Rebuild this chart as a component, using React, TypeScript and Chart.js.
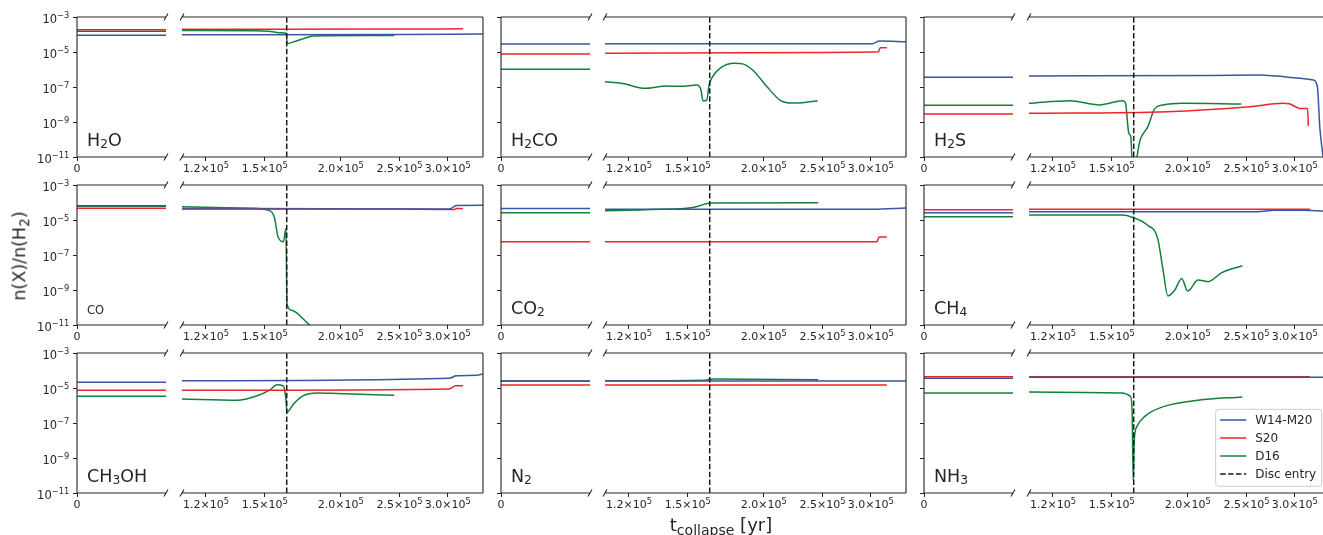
import React, { useEffect, useRef } from 'react';
import { Chart, registerables } from 'chart.js';
Chart.register(...registerables);

const FONT = "'DejaVu Sans', 'Liberation Sans', sans-serif";
const BLUE = '#3b54a5';
const RED = '#ed2529';
const GREEN = '#12803b';
const DARK = '#262626';

// ---------- axes ----------
const X_MIN = 1.096e5;
const X_MAX = 3.43e5;
const DISC_ENTRY = 1.63e5;
const Y_MIN = 1e-11;
const Y_MAX = 1e-3;
const DISC_Y = [Y_MIN, Y_MAX];
const X_TICKS = [1.2e5, 1.5e5, 2.0e5, 2.5e5, 3.0e5];
const X_TICK_LABELS = [['1.2×10', '5'], ['1.5×10', '5'], ['2.0×10', '5'], ['2.5×10', '5'], ['3.0×10', '5']];
const X0_TICKS = [0];
const X0_TICK_LABELS = [['0', '']];
const Y_TICKS = [1e-11, 1e-9, 1e-7, 1e-5, 1e-3];
const Y_TICK_LABELS = [['10', '−11'], ['10', '−9'], ['10', '−7'], ['10', '−5'], ['10', '−3']];
const MODELS = ['W14-M20', 'S20', 'D16'];
const DISC_LABEL = 'Disc entry';

// ---------- data: initial values [W14-M20, S20, D16] and time series [t, n(X)/n(H2)] ----------
const H2O_INIT = [9.0e-5, 1.85e-4, 1.55e-4];
const H2O_W14 = [[1.096e5, 9.6e-5], [2.5e5, 1.0e-4], [3.43e5, 1.07e-4]];
const H2O_S20 = [[1.096e5, 2.0e-4], [2.5e5, 2.05e-4], [3.18e5, 2.1e-4]];
const H2O_D16 = [[1.096e5, 1.7e-4], [1.45e5, 1.65e-4], [1.52e5, 1.55e-4], [1.6e5, 1.25e-4], [1.628e5, 1.15e-4], [1.632e5, 3.0e-5], [1.694e5, 4.4e-5], [1.755e5, 6.5e-5], [1.8e5, 8.2e-5], [1.9e5, 8.5e-5], [2.45e5, 8.7e-5]];

const H2CO_INIT = [2.87e-5, 7.7e-6, 1.02e-6];
const H2CO_W14 = [[1.096e5, 2.97e-5], [3.02e5, 3.0e-5], [3.1e5, 4.2e-5], [3.43e5, 3.9e-5]];
const H2CO_S20 = [[1.096e5, 8.4e-6], [2.5e5, 9.5e-6], [3.09e5, 1.03e-5], [3.11e5, 1.76e-5], [3.19e5, 1.76e-5]];
const H2CO_D16 = [[1.096e5, 2.0e-7], [1.172e5, 1.6e-7], [1.275e5, 8.4e-8], [1.38e5, 1.14e-7], [1.46e5, 1.1e-7], [1.553e5, 1.3e-7], [1.577e5, 6.7e-8], [1.589e5, 1.6e-8], [1.612e5, 1.8e-8], [1.625e5, 1.14e-7], [1.642e5, 3.2e-7], [1.694e5, 1.17e-6], [1.792e5, 2.26e-6], [1.847e5, 2.1e-6], [1.918e5, 9.3e-7], [2.025e5, 1.04e-7], [2.127e5, 1.8e-8], [2.234e5, 1.2e-8], [2.353e5, 1.35e-8], [2.454e5, 1.65e-8]];

const H2S_INIT = [3.57e-7, 2.86e-9, 8.97e-9];
const H2S_W14 = [[1.096e5, 4.25e-7], [2.2e5, 4.6e-7], [2.63e5, 4.85e-7], [2.8e5, 4.2e-7], [3.06e5, 3.2e-7], [3.22e5, 2.5e-7], [3.27e5, 1.0e-7], [3.3e5, 5e-10], [3.34e5, 1e-11], [3.36e5, 1e-12]];
const H2S_S20 = [[1.096e5, 3.15e-9], [1.85e5, 3.9e-9], [2.53e5, 7.5e-9], [2.87e5, 1.17e-8], [2.94e5, 1.1e-8], [3.06e5, 6e-9], [3.15e5, 6e-9], [3.16e5, 5.9e-10]];
const H2S_D16 = [[1.096e5, 1.17e-8], [1.28e5, 1.65e-8], [1.43e5, 9.4e-9], [1.565e5, 1.65e-8], [1.58e5, 1.2e-8], [1.6e5, 2.3e-10], [1.612e5, 1.4e-10], [1.625e5, 1e-12], [1.67e5, 9.3e-11], [1.72e5, 5.4e-10], [1.766e5, 6e-9], [1.82e5, 9.4e-9], [1.96e5, 1.17e-8], [2.45e5, 1.08e-8]];

const CO_INIT = [6.6e-5, 4.7e-5, 6.2e-5];
const CO_W14 = [[1.096e5, 4.3e-5], [3.02e5, 4.2e-5], [3.1e5, 6.8e-5], [3.43e5, 6.9e-5]];
const CO_S20 = [[1.096e5, 4.6e-5], [2.5e5, 4.3e-5], [3.0e5, 4.0e-5], [3.08e5, 4.0e-5], [3.1e5, 4.6e-5], [3.18e5, 4.6e-5]];
const CO_D16 = [[1.096e5, 5.7e-5], [1.42e5, 4.7e-5], [1.53e5, 3.3e-5], [1.557e5, 1.25e-5], [1.577e5, 1.1e-6], [1.61e5, 5.7e-7], [1.625e5, 3.3e-6], [1.632e5, 1.5e-10], [1.66e5, 7e-11], [1.78e5, 1e-11], [1.9e5, 3e-12], [2.45e5, 3e-13]];

const CO2_INIT = [4.5e-5, 5.75e-7, 2.6e-5];
const CO2_W14 = [[1.096e5, 4.1e-5], [3.02e5, 4.1e-5], [3.43e5, 4.8e-5]];
const CO2_S20 = [[1.096e5, 5.75e-7], [3.07e5, 5.75e-7], [3.1e5, 1.06e-6], [3.19e5, 1.06e-6]];
const CO2_D16 = [[1.096e5, 3.4e-5], [1.4e5, 4.2e-5], [1.52e5, 5.0e-5], [1.57e5, 6.5e-5], [1.6e5, 8.3e-5], [1.65e5, 9.3e-5], [2.46e5, 9.7e-5]];

const CH4_INIT = [2.6e-5, 3.9e-5, 1.55e-5];
const CH4_W14 = [[1.096e5, 3.0e-5], [2.6e5, 3.0e-5], [2.78e5, 3.6e-5], [3.1e5, 3.6e-5], [3.43e5, 3.1e-5]];
const CH4_S20 = [[1.096e5, 4.1e-5], [3.18e5, 4.1e-5]];
const CH4_D16 = [[1.096e5, 1.9e-5], [1.557e5, 1.9e-5], [1.625e5, 1.4e-5], [1.716e5, 5.2e-6], [1.785e5, 8.9e-7], [1.82e5, 1.74e-8], [1.855e5, 4.6e-10], [1.905e5, 1e-9], [1.955e5, 4.6e-9], [2.0e5, 8.7e-10], [2.08e5, 3.7e-9], [2.16e5, 3e-9], [2.276e5, 9.8e-9], [2.46e5, 2.45e-8]];

const CH3OH_INIT = [2.1e-5, 7.4e-6, 3.4e-6];
const CH3OH_W14 = [[1.096e5, 2.6e-5], [3.02e5, 3.6e-5], [3.1e5, 5.0e-5], [3.35e5, 5.3e-5], [3.43e5, 6.3e-5]];
const CH3OH_S20 = [[1.096e5, 7.4e-6], [3.02e5, 8.8e-6], [3.09e5, 1.35e-5], [3.18e5, 1.35e-5]];
const CH3OH_D16 = [[1.096e5, 2.35e-6], [1.35e5, 2.0e-6], [1.45e5, 3.4e-6], [1.53e5, 7.9e-6], [1.57e5, 1.55e-5], [1.61e5, 1.3e-5], [1.625e5, 2.2e-6], [1.632e5, 4.1e-7], [1.67e5, 1.13e-6], [1.73e5, 3.4e-6], [1.83e5, 5.2e-6], [1.97e5, 4.9e-6], [2.45e5, 3.8e-6]];

const N2_INIT = [2.5e-5, 1.48e-5, 2.5e-5];
const N2_W14 = [[1.096e5, 2.5e-5], [3.43e5, 2.5e-5]];
const N2_S20 = [[1.096e5, 1.48e-5], [3.19e5, 1.48e-5]];
const N2_D16 = [[1.096e5, 2.6e-5], [1.6e5, 2.8e-5], [1.65e5, 3.25e-5], [2.46e5, 3.0e-5]];

const NH3_INIT = [3.6e-5, 4.4e-5, 5.2e-6];
const NH3_W14 = [[1.096e5, 4.1e-5], [3.43e5, 4.1e-5]];
const NH3_S20 = [[1.096e5, 4.4e-5], [3.18e5, 4.4e-5]];
const NH3_D16 = [[1.096e5, 5.9e-6], [1.557e5, 5.2e-6], [1.61e5, 3.3e-6], [1.62e5, 5.7e-7], [1.627e5, 5e-11], [1.632e5, 7.2e-9], [1.65e5, 6.4e-8], [1.7e5, 2.4e-7], [1.83e5, 8.9e-7], [2.08e5, 2.0e-6], [2.46e5, 3.1e-6]];

type Part = [string, number];
type Panel = { label: Part[]; small?: boolean; init: number[]; series: number[][][] };

const PANELS: Panel[] = [
  { label: [['H', 0], ['2', 1], ['O', 0]], init: H2O_INIT, series: [H2O_W14, H2O_S20, H2O_D16] },
  { label: [['H', 0], ['2', 1], ['CO', 0]], init: H2CO_INIT, series: [H2CO_W14, H2CO_S20, H2CO_D16] },
  { label: [['H', 0], ['2', 1], ['S', 0]], init: H2S_INIT, series: [H2S_W14, H2S_S20, H2S_D16] },
  { label: [['CO', 0]], small: true, init: CO_INIT, series: [CO_W14, CO_S20, CO_D16] },
  { label: [['CO', 0], ['2', 1]], init: CO2_INIT, series: [CO2_W14, CO2_S20, CO2_D16] },
  { label: [['CH', 0], ['4', 1]], init: CH4_INIT, series: [CH4_W14, CH4_S20, CH4_D16] },
  { label: [['CH', 0], ['3', 1], ['OH', 0]], init: CH3OH_INIT, series: [CH3OH_W14, CH3OH_S20, CH3OH_D16] },
  { label: [['N', 0], ['2', 1]], init: N2_INIT, series: [N2_W14, N2_S20, N2_D16] },
  { label: [['NH', 0], ['3', 1]], init: NH3_INIT, series: [NH3_W14, NH3_S20, NH3_D16] },
];

// ---------- layout ----------
const ROW_TOP = [17, 185, 353];
const PLOT_H = 140;
const COL_L = [77, 501, 924];
const LEFT_W = 89;
const COL_R = [182, 605, 1029];
const RIGHT_W = 301;
const PAD_T = 10;
const PAD_B = 24;
const PAD_R = 6;
const PAD_LR = 6;
const X_FS = 11;
const Y_FS = 11.5;

Chart.defaults.font.family = FONT;

const tickFont = { family: FONT, size: 11 };

function lineDs(data: number[][], color: string, label: string) {
  return {
    label,
    data: data.map(([x, y]) => ({ x, y })),
    borderColor: color,
    borderWidth: 1.5,
    pointRadius: 0,
    fill: false,
    cubicInterpolationMode: 'monotone',
    clip: 0,
  };
}

function spinePlugin(side: 'left' | 'right') {
  return {
    id: 'spines',
    afterDatasetsDraw(chart: any) {
      const { ctx, chartArea: a } = chart;
      ctx.save();
      ctx.strokeStyle = DARK;
      ctx.lineWidth = 1.1;
      ctx.beginPath();
      ctx.moveTo(a.left, a.top); ctx.lineTo(a.right, a.top);
      ctx.moveTo(a.left, a.bottom); ctx.lineTo(a.right, a.bottom);
      const ex = side === 'left' ? a.left : a.right;
      ctx.moveTo(ex, a.top); ctx.lineTo(ex, a.bottom);
      const bx = side === 'left' ? a.right : a.left;
      for (const by of [a.top, a.bottom]) {
        ctx.moveTo(bx - 2, by + 3.5);
        ctx.lineTo(bx + 2, by - 3.5);
      }
      ctx.stroke();
      ctx.restore();
    },
  };
}

// tick labels with real superscripts (mathtext style), placed with the chart's own scales
function xLabelPlugin(values: number[], labels: string[][]) {
  return {
    id: 'xTickLabels',
    afterDraw(chart: any) {
      const { ctx, chartArea: a } = chart;
      const sc = chart.scales.x;
      const supFs = X_FS * 0.75;
      const base = a.bottom + 15.3;
      ctx.save();
      ctx.fillStyle = DARK;
      ctx.textBaseline = 'alphabetic';
      ctx.textAlign = 'left';
      values.forEach((v, i) => {
        const px = sc.getPixelForValue(v);
        const [b, e] = labels[i];
        ctx.font = `${X_FS}px ${FONT}`;
        const w1 = ctx.measureText(b).width;
        ctx.font = `${supFs}px ${FONT}`;
        const w2 = e ? ctx.measureText(e).width : 0;
        const x0 = px - (w1 + w2) / 2;
        ctx.font = `${X_FS}px ${FONT}`;
        ctx.fillText(b, x0, base);
        if (e) {
          ctx.font = `${supFs}px ${FONT}`;
          ctx.fillText(e, x0 + w1, base - 4.3);
        }
      });
      ctx.restore();
    },
  };
}

function yLabelPlugin(values: number[], labels: string[][]) {
  return {
    id: 'yTickLabels',
    afterDraw(chart: any) {
      const { ctx, chartArea: a } = chart;
      const sc = chart.scales.y;
      const supFs = Y_FS * 0.72;
      const right = a.left - 7.8;
      ctx.save();
      ctx.fillStyle = DARK;
      ctx.textBaseline = 'alphabetic';
      ctx.textAlign = 'left';
      values.forEach((v, i) => {
        const py = sc.getPixelForValue(v);
        const [b, e] = labels[i];
        ctx.font = `${Y_FS}px ${FONT}`;
        const w1 = ctx.measureText(b).width;
        ctx.font = `${supFs}px ${FONT}`;
        const w2 = ctx.measureText(e).width;
        const x0 = right - w1 - w2;
        const base = py + 5.6;
        ctx.font = `${Y_FS}px ${FONT}`;
        ctx.fillText(b, x0, base);
        ctx.font = `${supFs}px ${FONT}`;
        ctx.fillText(e, x0 + w1, base - 4.4);
      });
      ctx.restore();
    },
  };
}

function labelPlugin(parts: Part[], small?: boolean) {
  return {
    id: 'panelLabel',
    afterDraw(chart: any) {
      const { ctx, chartArea: a } = chart;
      const size = small ? 11.5 : 17.5;
      let x = a.left + 10;
      const base = a.bottom - 11.5;
      ctx.save();
      ctx.fillStyle = DARK;
      ctx.textBaseline = 'alphabetic';
      ctx.textAlign = 'left';
      for (const [t, sub] of parts) {
        const fs = sub ? size * 0.7 : size;
        ctx.font = `${fs}px ${FONT}`;
        ctx.fillText(t, x, sub ? base + size * 0.17 : base);
        x += ctx.measureText(t).width;
      }
      ctx.restore();
    },
  };
}

const legendPlugin = {
  id: 'legendBox',
  afterDraw(chart: any) {
    const { ctx, chartArea: a } = chart;
    const x0 = a.left + 186.7;
    const y0 = a.top + 56.3;
    const w = 106;
    const h = 77;
    ctx.save();
    ctx.beginPath();
    (ctx as any).roundRect(x0, y0, w, h, 3);
    ctx.fillStyle = 'rgba(255,255,255,0.85)';
    ctx.fill();
    ctx.strokeStyle = '#cccccc';
    ctx.lineWidth = 1;
    ctx.stroke();
    const items = [
      { label: MODELS[0], color: BLUE, dash: false },
      { label: MODELS[1], color: RED, dash: false },
      { label: MODELS[2], color: GREEN, dash: false },
      { label: DISC_LABEL, color: '#1a1a1a', dash: true },
    ];
    items.forEach((it, i) => {
      const y = y0 + 10.7 + i * 18;
      ctx.strokeStyle = it.color;
      ctx.lineWidth = 1.5;
      ctx.setLineDash(it.dash ? [5.5, 2.4] : []);
      ctx.beginPath();
      ctx.moveTo(x0 + 4.5, y);
      ctx.lineTo(x0 + 30.5, y);
      ctx.stroke();
      ctx.setLineDash([]);
      ctx.fillStyle = DARK;
      ctx.font = `12px ${FONT}`;
      ctx.textBaseline = 'middle';
      ctx.textAlign = 'left';
      ctx.fillText(it.label, x0 + 39.5, y + 0.5);
    });
    ctx.restore();
  },
};

const gridOpts = { display: true, drawOnChartArea: false, drawTicks: true, tickLength: 4, tickWidth: 1, color: DARK };
const hiddenTickText = { callback: () => '', font: tickFont, color: DARK, padding: 3, autoSkip: false, maxRotation: 0, minRotation: 0 };

// dataset 0 is drawn on top in Chart.js: order = blue, red, green (top to bottom)
function leftConfig(p: Panel, col: number, padL: number): any {
  const [iw, is, id] = p.init;
  const flat = (v: number) => [[0, v], [1, v]];
  const plugins: any[] = [spinePlugin('left'), labelPlugin(p.label, p.small), xLabelPlugin(X0_TICKS, X0_TICK_LABELS)];
  if (col === 0) plugins.push(yLabelPlugin(Y_TICKS, Y_TICK_LABELS));
  return {
    type: 'line',
    data: {
      datasets: [
        lineDs(flat(iw), BLUE, MODELS[0]),
        lineDs(flat(is), RED, MODELS[1]),
        lineDs(flat(id), GREEN, MODELS[2]),
      ],
    },
    options: {
      responsive: false,
      animation: false,
      devicePixelRatio: 1,
      events: [],
      layout: { padding: { left: 0, right: PAD_R, top: PAD_T, bottom: 0 } },
      plugins: { legend: { display: false }, tooltip: { enabled: false } },
      scales: {
        x: {
          type: 'linear', min: 0, max: 1,
          afterBuildTicks: (s: any) => { s.ticks = X0_TICKS.map((v) => ({ value: v })); },
          afterFit: (s: any) => { s.height = PAD_B; },
          ticks: hiddenTickText,
          grid: gridOpts,
          border: { display: false },
        },
        y: {
          type: 'logarithmic', min: Y_MIN, max: Y_MAX,
          afterBuildTicks: (s: any) => { s.ticks = Y_TICKS.map((v) => ({ value: v })); },
          afterFit: (s: any) => { s.width = padL; },
          ticks: hiddenTickText,
          grid: gridOpts,
          border: { display: false },
        },
      },
    },
    plugins,
  };
}

function rightConfig(p: Panel, withLegend: boolean): any {
  const [w, s, d] = p.series;
  const plugins: any[] = [spinePlugin('right'), xLabelPlugin(X_TICKS, X_TICK_LABELS)];
  if (withLegend) plugins.push(legendPlugin);
  return {
    type: 'line',
    data: {
      datasets: [
        {
          label: DISC_LABEL,
          data: DISC_Y.map((y) => ({ x: DISC_ENTRY, y })),
          borderColor: '#1a1a1a',
          borderDash: [5.5, 2.4],
          borderWidth: 1.5,
          pointRadius: 0,
          tension: 0,
          fill: false,
        },
        lineDs(w, BLUE, MODELS[0]),
        lineDs(s, RED, MODELS[1]),
        lineDs(d, GREEN, MODELS[2]),
      ],
    },
    options: {
      responsive: false,
      animation: false,
      devicePixelRatio: 1,
      events: [],
      layout: { padding: { left: PAD_LR, right: PAD_R, top: PAD_T, bottom: 0 } },
      plugins: { legend: { display: false }, tooltip: { enabled: false } },
      scales: {
        x: {
          type: 'logarithmic', min: X_MIN, max: X_MAX,
          afterBuildTicks: (sc: any) => { sc.ticks = X_TICKS.map((v) => ({ value: v })); },
          afterFit: (sc: any) => { sc.height = PAD_B; },
          ticks: hiddenTickText,
          grid: gridOpts,
          border: { display: false },
        },
        y: {
          type: 'logarithmic', min: Y_MIN, max: Y_MAX, display: false,
        },
      },
    },
    plugins,
  };
}

function ChartBox(props: { left: number; top: number; width: number; height: number; build: () => any }) {
  const ref = useRef<HTMLCanvasElement>(null);
  useEffect(() => {
    const chart = new Chart(ref.current as HTMLCanvasElement, props.build());
    return () => chart.destroy();
  }, []);
  const { left, top, width, height } = props;
  return (
    <canvas
      ref={ref}
      width={width}
      height={height}
      style={{ position: 'absolute', left, top, width, height }}
    />
  );
}

const SUB: React.CSSProperties = { fontSize: '0.78em', verticalAlign: '-0.3em', lineHeight: 0 };

export default function App() {
  useEffect(() => {
    document.body.style.margin = '0';
  }, []);
  return (
    <div style={{ position: 'fixed', left: 0, top: 0, width: 1323, height: 535, overflow: 'hidden', background: '#ffffff', fontFamily: FONT, color: DARK }}>
      {PANELS.map((p, k) => {
        const r = Math.floor(k / 3);
        const c = k % 3;
        const padL = c === 0 ? 77 : 10;
        const top = ROW_TOP[r] - PAD_T;
        const h = PAD_T + PLOT_H + PAD_B;
        return (
          <React.Fragment key={k}>
            <ChartBox left={COL_L[c] - padL} top={top} width={padL + LEFT_W + PAD_R} height={h} build={() => leftConfig(p, c, padL)} />
            <ChartBox left={COL_R[c] - PAD_LR} top={top} width={PAD_LR + RIGHT_W + PAD_R} height={h} build={() => rightConfig(p, k === 8)} />
          </React.Fragment>
        );
      })}
      <div style={{ position: 'absolute', left: 20, top: 256, transform: 'translate(-50%, -50%) rotate(-90deg)', whiteSpace: 'nowrap', fontSize: 17.5, lineHeight: 1 }}>
        n(X)/n(H<sub style={SUB}>2</sub>)
      </div>
      <div style={{ position: 'absolute', left: 721, top: 525, transform: 'translate(-50%, -50%)', whiteSpace: 'nowrap', fontSize: 18, lineHeight: 1 }}>
        t<sub style={SUB}>collapse</sub> [yr]
      </div>
    </div>
  );
}
